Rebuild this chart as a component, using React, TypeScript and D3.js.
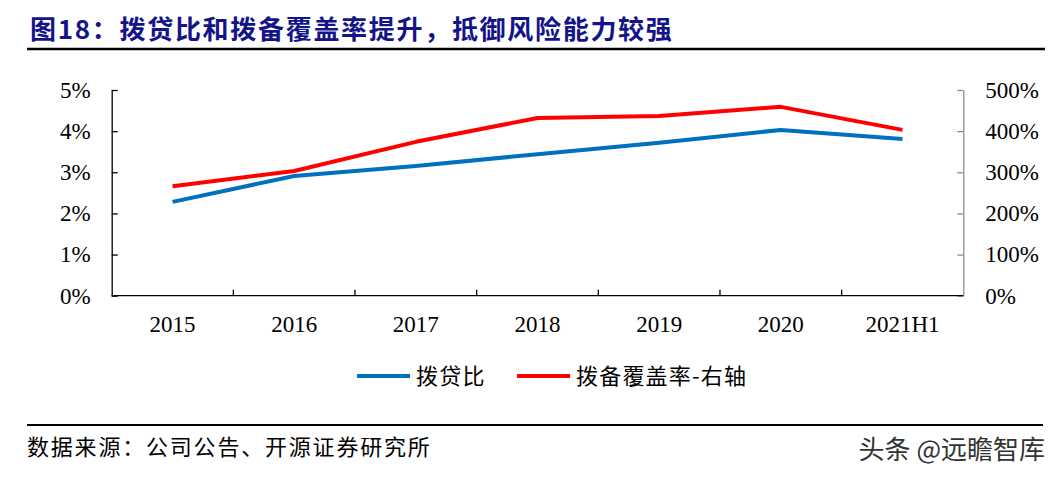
import { useEffect, useRef } from 'react'
import * as d3 from 'd3'

// Chart data
const categories = ['2015', '2016', '2017', '2018', '2019', '2020', '2021H1']
const loanProvisionRatio = [2.28, 2.91, 3.15, 3.44, 3.72, 4.03, 3.81] // %, left axis
const coverageRatio = [266, 303, 374, 432, 437, 459, 403] // %, right axis
const leftTicks = [0, 1, 2, 3, 4, 5]
const rightTicks = [0, 100, 200, 300, 400, 500]

const legendItems = [
  { label: '拨贷比', color: '#0070C0' },
  { label: '拨备覆盖率-右轴', color: '#FF0000' },
]

const W = 1060
const H = 479
const SERIF = '"Liberation Serif", "Times New Roman", serif'
const CJK = '"Noto Sans CJK SC", "Noto Sans", sans-serif'

export default function App() {
  const svgRef = useRef<SVGSVGElement>(null)

  useEffect(() => {
    if (!svgRef.current) return
    const svg = d3.select(svgRef.current)
    svg.selectAll('*').remove()

    const plot = { left: 111.7, right: 963.3, top: 90, bottom: 295.7 }

    const x = d3
      .scaleBand<string>()
      .domain(categories)
      .range([plot.left, plot.right])
    const cx = (c: string) => (x(c) ?? 0) + x.bandwidth() / 2

    const yL = d3.scaleLinear().domain([0, 5]).range([plot.bottom, plot.top])
    const yR = d3.scaleLinear().domain([0, 500]).range([plot.bottom, plot.top])

    // Title
    svg
      .append('text')
      .attr('x', 30)
      .attr('y', 39)
      .attr('fill', '#14148a')
      .attr('font-family', CJK)
      .attr('font-weight', 'bold')
      .attr('font-size', 26)
      .attr('letter-spacing', 1.7)
      .text('图18：拨贷比和拨备覆盖率提升，抵御风险能力较强')

    svg
      .append('line')
      .attr('x1', 27)
      .attr('x2', 1045)
      .attr('y1', 49)
      .attr('y2', 49)
      .attr('stroke', '#000')
      .attr('stroke-width', 2.5)

    // Left axis
    const leftAxis = d3
      .axisLeft(yL)
      .tickValues(leftTicks)
      .tickSizeInner(-6)
      .tickSizeOuter(0)
      .tickPadding(21)
      .tickFormat((d) => `${d}%`)

    const gL = svg.append('g').attr('transform', `translate(${plot.left},0)`).call(leftAxis)
    gL.selectAll('path, line').attr('stroke', '#000').attr('stroke-width', 1.3)
    gL.selectAll('text')
      .attr('font-family', SERIF)
      .attr('font-size', 23)
      .attr('fill', '#000')

    // Right axis
    const rightAxis = d3
      .axisRight(yR)
      .tickValues(rightTicks)
      .tickSizeInner(-6)
      .tickSizeOuter(0)
      .tickPadding(22)
      .tickFormat((d) => `${d}%`)

    const gR = svg.append('g').attr('transform', `translate(${plot.right},0)`).call(rightAxis)
    gR.selectAll('path, line').attr('stroke', '#8c8c8c').attr('stroke-width', 1.3)
    gR.selectAll('text')
      .attr('font-family', SERIF)
      .attr('font-size', 23)
      .attr('fill', '#000')

    // Bottom axis: line, ticks at category boundaries, labels centered
    const gB = svg.append('g')
    gB.append('line')
      .attr('x1', plot.left)
      .attr('x2', plot.right)
      .attr('y1', plot.bottom)
      .attr('y2', plot.bottom)
      .attr('stroke', '#000')
      .attr('stroke-width', 1.3)

    gB.selectAll('line.tick')
      .data(categories.slice(1))
      .join('line')
      .attr('class', 'tick')
      .attr('x1', (d) => x(d) ?? 0)
      .attr('x2', (d) => x(d) ?? 0)
      .attr('y1', plot.bottom)
      .attr('y2', plot.bottom - 6)
      .attr('stroke', '#000')
      .attr('stroke-width', 1.3)

    gB.selectAll('text')
      .data(categories)
      .join('text')
      .attr('x', (d) => cx(d))
      .attr('y', 332)
      .attr('text-anchor', 'middle')
      .attr('font-family', SERIF)
      .attr('font-size', 23)
      .attr('fill', '#000')
      .text((d) => d)

    // Lines
    const lineL = d3
      .line<number>()
      .x((_, i) => cx(categories[i]))
      .y((d) => yL(d))
    const lineR = d3
      .line<number>()
      .x((_, i) => cx(categories[i]))
      .y((d) => yR(d))

    svg.append('path')
      .datum(loanProvisionRatio)
      .attr('fill', 'none')
      .attr('stroke', legendItems[0].color)
      .attr('stroke-width', 4)
      .attr('stroke-linejoin', 'round')
      .attr('d', lineL)

    svg.append('path')
      .datum(coverageRatio)
      .attr('fill', 'none')
      .attr('stroke', legendItems[1].color)
      .attr('stroke-width', 4)
      .attr('stroke-linejoin', 'round')
      .attr('d', lineR)

    // Legend
    const legendX = [357, 517]
    const legend = svg.append('g')
    legendItems.forEach((item, i) => {
      legend.append('line')
        .attr('x1', legendX[i])
        .attr('x2', legendX[i] + 53)
        .attr('y1', 376)
        .attr('y2', 376)
        .attr('stroke', item.color)
        .attr('stroke-width', 4)
      legend.append('text')
        .attr('x', legendX[i] + 59)
        .attr('y', 384)
        .attr('font-family', CJK)
        .attr('font-size', 22)
        .attr('letter-spacing', 1.2)
        .attr('fill', '#000')
        .text(item.label)
    })

    // Footer
    svg
      .append('line')
      .attr('x1', 27)
      .attr('x2', 1043)
      .attr('y1', 425)
      .attr('y2', 425)
      .attr('stroke', '#000')
      .attr('stroke-width', 2)

    svg
      .append('text')
      .attr('x', 27)
      .attr('y', 455)
      .attr('font-family', CJK)
      .attr('font-size', 22)
      .attr('letter-spacing', 1.8)
      .attr('fill', '#000')
      .text('数据来源：公司公告、开源证券研究所')

    svg
      .append('text')
      .attr('x', 1045)
      .attr('y', 459)
      .attr('text-anchor', 'end')
      .attr('font-family', CJK)
      .attr('font-size', 26)
      .attr('fill', '#333')
      .text('头条 @远瞻智库')
  }, [])

  return (
    <svg
      ref={svgRef}
      width={W}
      height={H}
      style={{ position: 'absolute', left: 0, top: 0, background: '#fff' }}
    />
  )
}
